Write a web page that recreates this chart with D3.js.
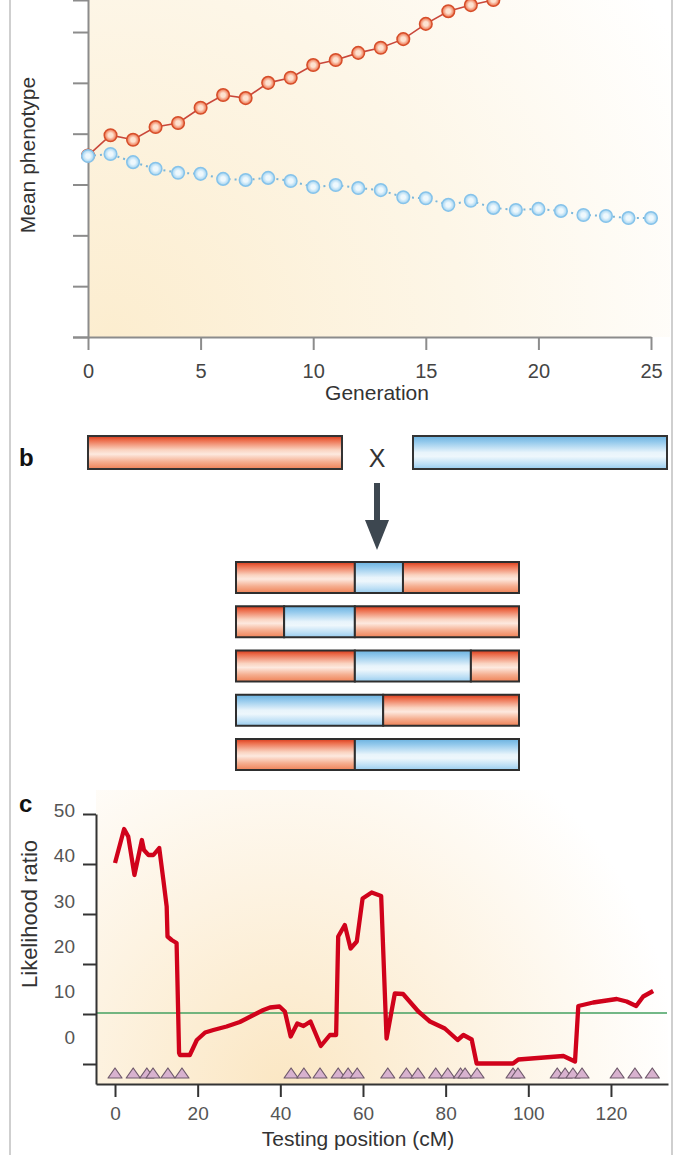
<!DOCTYPE html>
<html>
<head>
<meta charset="utf-8">
<script src="https://cdn.jsdelivr.net/npm/d3@7"></script>
<style>
  body { margin: 0; background: #fff; }
  svg { display: block; }
  text { font-family: "Liberation Sans", Arial, sans-serif; }
</style>
</head>
<body>
<div id="chart"></div>
<script>
// panel a: mean phenotype per generation
var generations = [0,1,2,3,4,5,6,7,8,9,10,11,12,13,14,15,16,17,18,19,20,21,22,23,24,25];
var selectedUp = [3.57,3.97,3.88,4.13,4.21,4.51,4.76,4.70,5.00,5.10,5.35,5.45,5.59,5.69,5.86,6.16,6.41,6.53,6.63];
var selectedDown = [3.56,3.60,3.44,3.31,3.23,3.21,3.11,3.09,3.13,3.07,2.95,2.99,2.93,2.89,2.75,2.73,2.60,2.68,2.54,2.50,2.52,2.48,2.40,2.38,2.34,2.34];
var genTicks = [0,5,10,15,20,25];
var phenoTicks = [0,1,2,3,4,5,6];

// panel b: parental chromosomes and recombinant lines (segment start/end in % of length)
var parents = ["red","blue"];
var recombinants = [
  [["red",0,42],["blue",42,59],["red",59,100]],
  [["red",0,17],["blue",17,42],["red",42,100]],
  [["red",0,42],["blue",42,83],["red",83,100]],
  [["blue",0,52],["red",52,100]],
  [["red",0,42],["blue",42,100]]
];

// panel c: likelihood ratio scan
var positions = [0,2.2,3.2,4.7,6.5,7,8.1,9.3,10.7,11.7,12.5,12.7,13.7,14.9,15.5,15.7,18.1,19.8,21.8,23.8,27,30.2,33.5,35.9,37.5,39.8,41.1,42.5,44.1,45.6,47.3,49.8,52,53.5,54,55.6,57,58.5,59.9,62.1,64.4,65.7,67.7,69.7,73.4,76.2,79.8,82.9,84.3,86.3,87.5,96.3,97.6,108.5,111.3,112.1,115.7,121.4,123.8,126.1,127.8,130.2];
var likelihood = [40.2,47,45.5,37.8,44.8,42.8,41.8,41.8,43.2,36.8,31.5,25.5,24.8,24.2,2.2,1.8,1.8,4.8,6.3,6.8,7.5,8.4,9.8,10.8,11.3,11.5,10.5,5.5,8.1,7.6,8.5,3.6,5.8,5.8,25.5,27.8,23.1,24.5,33.1,34.3,33.6,5.1,14.1,14,10.5,8.5,7.1,4.8,5.8,4.9,0.1,0.1,0.9,1.6,0.5,11.6,12.3,13,12.5,11.6,13.5,14.6];
var markers = [0,4.4,7.7,9.2,12.8,16.2,42.6,45.7,49.6,54,56.4,58.6,66,70.5,73.3,77.6,80.5,83.6,84.7,87.6,96.3,97.5,107,108.9,110.8,113,121.5,125.8,130];
var threshold = 10.2;
var posTicks = [0,20,40,60,80,100,120];
var lrTicks = [0,10,20,30,40,50];

var W = 674, H = 1155;
var svg = d3.select("#chart").append("svg").attr("width", W).attr("height", H);
var defs = svg.append("defs");

function radial(id, cx, cy, r, stops) {
  var g = defs.append("radialGradient").attr("id", id)
    .attr("gradientUnits", "userSpaceOnUse")
    .attr("cx", cx).attr("cy", cy).attr("r", r);
  stops.forEach(function (s) { g.append("stop").attr("offset", s[0]).attr("stop-color", s[1]); });
}
function linear(id, stops) {
  var g = defs.append("linearGradient").attr("id", id)
    .attr("x1", 0).attr("y1", 0).attr("x2", 0).attr("y2", 1);
  stops.forEach(function (s) { g.append("stop").attr("offset", s[0]).attr("stop-color", s[1]); });
}
function ball(id, inner, outer) {
  var g = defs.append("radialGradient").attr("id", id)
    .attr("cx", 0.5).attr("cy", 0.5).attr("r", 0.5);
  g.append("stop").attr("offset", 0).attr("stop-color", inner);
  g.append("stop").attr("offset", 0.35).attr("stop-color", inner);
  g.append("stop").attr("offset", 1).attr("stop-color", outer);
}

radial("bgA", 110, 340, 640, [[0,"#fcedcf"],[0.55,"#fdf6e7"],[1,"#ffffff"]]);
radial("bgC", 280, 1085, 400, [[0,"#fbe7c4"],[0.5,"#fdf3e2"],[1,"#ffffff"]]);
linear("chrRed", [[0,"#d63a1c"],[0.12,"#ec6a48"],[0.42,"#fad3c0"],[0.55,"#fde9df"],[0.78,"#f5ae90"],[1,"#ef8257"]]);
linear("chrBlue", [[0,"#6bb2df"],[0.18,"#93c9ec"],[0.5,"#e8f4fb"],[0.62,"#eef7fc"],[0.85,"#bddff5"],[1,"#98ccee"]]);
ball("dotRed", "#fde2d0", "#ec6a42");
ball("dotBlue", "#eef8fd", "#9ed1f0");

var chrFill = { red: "url(#chrRed)", blue: "url(#chrBlue)" };

// frame lines
svg.append("line").attr("x1", 10).attr("x2", 10).attr("y1", 0).attr("y2", H)
  .attr("stroke", "#cfcfcf").attr("stroke-width", 2);
svg.append("line").attr("x1", 672).attr("x2", 672).attr("y1", 0).attr("y2", H)
  .attr("stroke", "#cfcfcf").attr("stroke-width", 2);

// ---------- panel a ----------
var xa = d3.scaleLinear().domain([0, 25]).range([88, 651]);
var ya = d3.scaleLinear().domain([0, 6.63]).range([337, 0]);

svg.append("rect").attr("x", 88).attr("y", 0).attr("width", 582).attr("height", 337)
  .attr("fill", "url(#bgA)");

var axA = svg.append("g");
axA.append("g").attr("transform", "translate(88,0)")
  .call(d3.axisLeft(ya).tickValues(phenoTicks).tickSize(15).tickFormat(""))
  .call(function (g) {
    g.selectAll("path,line").attr("stroke", "#8c8c8c").attr("stroke-width", 2);
  });
axA.append("g").attr("transform", "translate(0,337)")
  .call(d3.axisBottom(xa).tickValues(genTicks).tickSize(13).tickPadding(14).tickSizeOuter(0))
  .call(function (g) {
    g.selectAll("path,line").attr("stroke", "#8c8c8c").attr("stroke-width", 2);
    g.selectAll("text").attr("font-size", 20).attr("fill", "#444")
      .attr("font-family", "'Liberation Sans', Arial, sans-serif");
  });

svg.append("text").attr("x", 377).attr("y", 400).attr("text-anchor", "middle")
  .attr("font-size", 21).attr("fill", "#333").text("Generation");
svg.append("text").attr("transform", "translate(35,155) rotate(-90)")
  .attr("text-anchor", "middle").attr("font-size", 21).attr("fill", "#333")
  .text("Mean phenotype");

var lineA = d3.line().x(function (d, i) { return xa(generations[i]); }).y(function (d) { return ya(d); });

svg.append("path").datum(selectedUp).attr("d", lineA)
  .attr("fill", "none").attr("stroke", "#c9473a").attr("stroke-width", 1.6);
svg.append("g").selectAll("circle").data(selectedUp).enter().append("circle")
  .attr("cx", function (d, i) { return xa(generations[i]); })
  .attr("cy", function (d) { return ya(d); })
  .attr("r", 6.3).attr("fill", "url(#dotRed)")
  .attr("stroke", "#d64e2a").attr("stroke-width", 1.5);

svg.append("path").datum(selectedDown).attr("d", lineA)
  .attr("fill", "none").attr("stroke", "#7ab6da").attr("stroke-width", 2)
  .attr("stroke-dasharray", "2,4");
svg.append("g").selectAll("circle").data(selectedDown).enter().append("circle")
  .attr("cx", function (d, i) { return xa(generations[i]); })
  .attr("cy", function (d) { return ya(d); })
  .attr("r", 6.3).attr("fill", "url(#dotBlue)")
  .attr("stroke", "#86c3ea").attr("stroke-width", 1.5);

// ---------- panel b ----------
svg.append("text").attr("x", 19).attr("y", 466).attr("font-size", 24)
  .attr("font-weight", "bold").attr("fill", "#111").text("b");

var xp = d3.scaleBand().domain(parents).range([88, 667]).paddingInner(0.2185);
svg.append("g").selectAll("rect").data(parents).enter().append("rect")
  .attr("x", function (d) { return xp(d); }).attr("y", 436)
  .attr("width", xp.bandwidth()).attr("height", 33)
  .attr("fill", function (d) { return chrFill[d]; })
  .attr("stroke", "#333").attr("stroke-width", 2);

svg.append("text").attr("x", 377).attr("y", 467).attr("text-anchor", "middle")
  .attr("font-size", 25).attr("fill", "#333").text("X");

// arrow
svg.append("rect").attr("x", 374).attr("y", 483).attr("width", 6).attr("height", 40).attr("fill", "#3d4750");
svg.append("path").attr("d", "M365,520 L389,520 L377,550 Z").attr("fill", "#3d4750");

var xr = d3.scaleLinear().domain([0, 100]).range([236, 519]);
var yr = d3.scalePoint().domain(d3.range(recombinants.length)).range([562, 739]);
var rows = svg.append("g").selectAll("g").data(recombinants).enter().append("g")
  .attr("transform", function (d, i) { return "translate(0," + yr(i) + ")"; });
rows.selectAll("rect").data(function (d) { return d; }).enter().append("rect")
  .attr("x", function (s) { return xr(s[1]); })
  .attr("width", function (s) { return xr(s[2]) - xr(s[1]); })
  .attr("y", 0).attr("height", 31)
  .attr("fill", function (s) { return chrFill[s[0]]; })
  .attr("stroke", "#2e2e2e").attr("stroke-width", 2);

// ---------- panel c ----------
var xc = d3.scaleLinear().domain([-4.6, 133.8]).range([96, 668]);
var yc = d3.scaleLinear().domain([-4, 50]).range([1084, 814]);
var yLabel = d3.scaleLinear().domain([0, 50]).range([1037, 810]);

svg.append("rect").attr("x", 96).attr("y", 790).attr("width", 572).attr("height", 294)
  .attr("fill", "url(#bgC)");

svg.append("text").attr("x", 19).attr("y", 812).attr("font-size", 24)
  .attr("font-weight", "bold").attr("fill", "#111").text("c");

// threshold
svg.append("line").attr("x1", 96).attr("x2", 667)
  .attr("y1", yc(threshold)).attr("y2", yc(threshold))
  .attr("stroke", "#45a060").attr("stroke-width", 1.6);

// markers
svg.append("g").selectAll("path").data(markers).enter().append("path")
  .attr("transform", function (d) { return "translate(" + xc(d) + ",1073)"; })
  .attr("d", "M-7,5 L0,-5 L7,5 Z")
  .attr("fill", "#d8b2cf").attr("stroke", "#6f5a6c").attr("stroke-width", 1.2)
  .attr("stroke-linejoin", "round");

var lineC = d3.line().x(function (d, i) { return xc(positions[i]); }).y(function (d) { return yc(d); });
svg.append("path").datum(likelihood).attr("d", lineC)
  .attr("fill", "none").attr("stroke", "#d0021b").attr("stroke-width", 4.3)
  .attr("stroke-linejoin", "round");

svg.append("g").attr("transform", "translate(96,0)")
  .call(d3.axisLeft(yc).tickValues(lrTicks).tickSize(13).tickFormat("").tickSizeOuter(0))
  .call(function (g) { g.selectAll("path,line").attr("stroke", "#333").attr("stroke-width", 2); });
svg.append("g").selectAll("text").data(lrTicks).enter().append("text")
  .attr("x", 75).attr("y", function (d) { return yLabel(d); }).attr("dy", "0.36em")
  .attr("text-anchor", "end").attr("font-size", 19).attr("fill", "#555")
  .text(function (d) { return d; });

svg.append("g").attr("transform", "translate(0,1084)")
  .call(d3.axisBottom(xc).tickValues(posTicks).tickSize(13).tickPadding(10).tickSizeOuter(0))
  .call(function (g) {
    g.selectAll("path,line").attr("stroke", "#333").attr("stroke-width", 2);
    g.selectAll("text").attr("font-size", 19).attr("fill", "#555")
      .attr("font-family", "'Liberation Sans', Arial, sans-serif");
  });

svg.append("text").attr("x", 358).attr("y", 1146).attr("text-anchor", "middle")
  .attr("font-size", 21).attr("fill", "#333").text("Testing position (cM)");
svg.append("text").attr("transform", "translate(37,914) rotate(-90)")
  .attr("text-anchor", "middle").attr("font-size", 22).attr("fill", "#333")
  .text("Likelihood ratio");
</script>
</body>
</html>
